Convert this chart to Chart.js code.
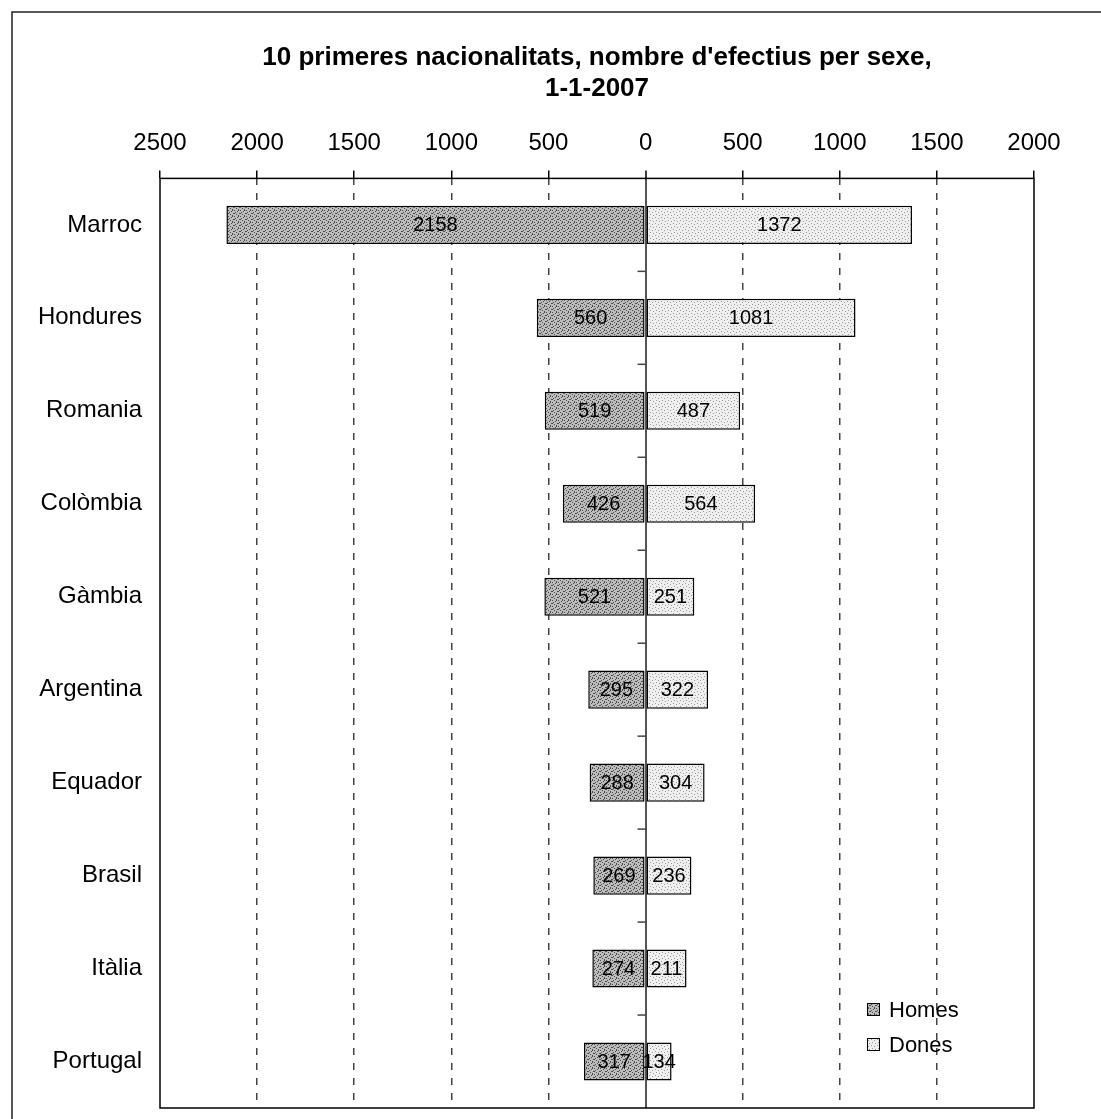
<!DOCTYPE html>
<html>
<head>
<meta charset="utf-8">
<script src="https://cdn.jsdelivr.net/npm/chart.js@4/dist/chart.umd.min.js"></script>
<style>
  html, body { margin: 0; padding: 0; background: #fff; }
  #wrap { width: 1101px; height: 1119px; }
</style>
</head>
<body>
<div id="wrap"><canvas id="pyramid" width="1101" height="1119"></canvas></div>
<script>
// nacionalitats (ordre del gràfic, de dalt a baix)
var categories = ['Marroc', 'Hondures', 'Romania', 'Colòmbia', 'Gàmbia', 'Argentina', 'Equador', 'Brasil', 'Itàlia', 'Portugal'];
var homes = [2158, 560, 519, 426, 521, 295, 288, 269, 274, 317];
var dones = [1372, 1081, 487, 564, 251, 322, 304, 236, 211, 134];
var seriesNames = ['Homes', 'Dones'];
var axisMin = -2500, axisMax = 2000, axisStep = 500;
var titleLines = ["10 primeres nacionalitats, nombre d'efectius per sexe,", '1-1-2007'];

var FONT = "'Liberation Sans', Arial, sans-serif";

// trama puntejada com l'original (Excel)
function stipple(bg, fg, dots) {
    var c = document.createElement('canvas');
    c.width = 6; c.height = 6;
    var g = c.getContext('2d');
    g.fillStyle = bg;
    g.fillRect(0, 0, 6, 6);
    g.fillStyle = fg;
    dots.forEach(function (d) { g.fillRect(d[0], d[1], 1, 1); });
    return g.createPattern(c, 'repeat');
}
var fillHomes = stipple('#bdbdbd', '#4a4a4a', [[0,0],[3,1],[1,2],[5,3],[2,4],[4,5],[0,3],[4,0]]);
var fillDones = stipple('#efefef', '#999999', [[1,1],[4,2],[2,4],[5,5]]);

var decor = {
    id: 'decor',
    afterDatasetsDraw: function (chart) {
        var ctx = chart.ctx;
        ctx.save();
        ctx.font = '20px ' + FONT;
        ctx.fillStyle = '#000';
        ctx.textAlign = 'center';
        ctx.textBaseline = 'middle';
        chart.data.datasets.forEach(function (ds, di) {
            chart.getDatasetMeta(di).data.forEach(function (bar, i) {
                var cx = (bar.x + bar.base) / 2;
                ctx.fillText(String(Math.abs(ds.data[i])), cx, bar.y + 1);
            });
        });
        ctx.restore();
    },
    afterDraw: function (chart) {
        var ctx = chart.ctx, a = chart.chartArea;
        var xs = chart.scales.x, ys = chart.scales.y;
        ctx.save();
        // marc de l'àrea del gràfic
        ctx.strokeStyle = '#000';
        ctx.lineWidth = 1.5;
        ctx.strokeRect(a.left, a.top, a.right - a.left, a.bottom - a.top);
        // marques de l'eix de categories sobre el zero
        var x0 = xs.getPixelForValue(0);
        ctx.strokeStyle = '#444';
        ctx.lineWidth = 1.5;
        for (var i = 1; i < categories.length; i++) {
            var yb = (ys.getPixelForValue(i - 1) + ys.getPixelForValue(i)) / 2;
            ctx.beginPath();
            ctx.moveTo(x0 - 8, yb);
            ctx.lineTo(x0, yb);
            ctx.stroke();
        }
        // llegenda
        var lx = a.right - 167;
        var rows = [[seriesNames[0], fillHomes, a.bottom - 98], [seriesNames[1], fillDones, a.bottom - 63]];
        ctx.font = '22px ' + FONT;
        ctx.textBaseline = 'middle';
        ctx.textAlign = 'left';
        rows.forEach(function (r) {
            ctx.fillStyle = r[1];
            ctx.fillRect(lx, r[2] - 7, 13, 13);
            ctx.strokeStyle = '#000';
            ctx.lineWidth = 1;
            ctx.strokeRect(lx + 0.5, r[2] - 6.5, 12, 12);
            ctx.fillStyle = '#000';
            ctx.fillText(r[0], lx + 22, r[2] + 1);
        });
        // vora exterior del quadre
        ctx.strokeStyle = '#222';
        ctx.lineWidth = 1.5;
        ctx.beginPath();
        ctx.moveTo(12, chart.height);
        ctx.lineTo(12, 12);
        ctx.lineTo(chart.width, 12);
        ctx.stroke();
        ctx.restore();
    }
};

var chart = new Chart(document.getElementById('pyramid'), {
    type: 'bar',
    data: {
        labels: categories,
        datasets: [{
            label: seriesNames[0],
            data: homes.map(function (v) { return -v; }),
            backgroundColor: fillHomes,
            borderColor: '#000',
            borderWidth: 1.5,
            borderSkipped: false
        }, {
            label: seriesNames[1],
            data: dones,
            backgroundColor: fillDones,
            borderColor: '#000',
            borderWidth: 1.5,
            borderSkipped: false
        }]
    },
    options: {
        indexAxis: 'y',
        responsive: false,
        animation: false,
        devicePixelRatio: 1,
        layout: { padding: { left: 20, right: 67, top: 0, bottom: 11 } },
        datasets: { bar: { categoryPercentage: 1, barPercentage: 0.41 } },
        scales: {
            x: {
                position: 'top',
                stacked: true,
                min: axisMin,
                max: axisMax,
                afterFit: function (s) { s.height = 60; },
                ticks: {
                    stepSize: axisStep,
                    padding: 13,
                    color: '#000',
                    font: { family: FONT, size: 24 },
                    callback: function (v) { return Math.abs(v); }
                },
                grid: {
                    tickLength: 8,
                    tickColor: '#000',
                    tickWidth: 1.5,
                    lineWidth: function (c) { return c.tick && c.tick.value === 0 ? 2 : 1.5; },
                    color: function (c) {
                        if (!c.tick) return '#555';
                        if (c.tick.value === axisMin || c.tick.value === axisMax) return 'rgba(0,0,0,0)';
                        return c.tick.value === 0 ? '#555' : '#444';
                    }
                },
                border: {
                    display: false,
                    dash: function (c) { return c.tick && c.tick.value === 0 ? [] : [7, 8]; }
                }
            },
            y: {
                stacked: true,
                afterFit: function (s) {
                    s.width = 140;
                    s.paddingTop = 0;
                    s.paddingBottom = 0;
                },
                ticks: {
                    padding: 18,
                    color: '#000',
                    font: { family: FONT, size: 24 }
                },
                grid: { display: false, drawTicks: false },
                border: { display: false }
            }
        },
        plugins: {
            legend: { display: false },
            tooltip: { enabled: false },
            title: {
                display: true,
                fullSize: false,
                text: titleLines,
                color: '#000',
                font: { family: FONT, size: 26, weight: 'bold', lineHeight: 1.2 },
                padding: { top: 42, bottom: 14 }
            }
        }
    },
    plugins: [decor]
});
</script>
</body>
</html>
